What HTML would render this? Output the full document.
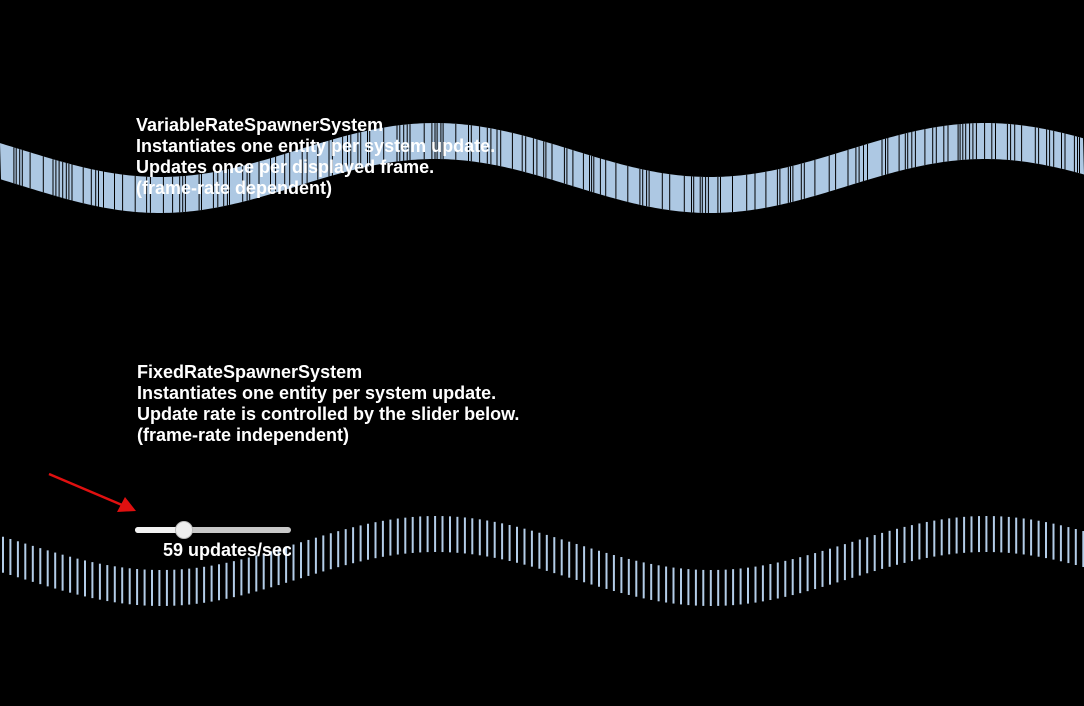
<!DOCTYPE html>
<html><head><style>
html,body{margin:0;padding:0;background:#000;width:1084px;height:706px;overflow:hidden}
.t{position:absolute;left:136px;color:#fff;font:bold 18px/21px "Liberation Sans",sans-serif;white-space:nowrap}
</style></head><body>
<svg id="s" width="1084" height="706" style="position:absolute;left:0;top:0"></svg>
<div class="t" style="top:115px">VariableRateSpawnerSystem<br>Instantiates one entity per system update.<br>Updates once per displayed frame.<br>(frame-rate dependent)</div>
<div class="t" style="top:362px;left:137px">FixedRateSpawnerSystem<br>Instantiates one entity per system update.<br>Update rate is controlled by the slider below.<br>(frame-rate independent)</div>
<div style="position:absolute;left:135px;top:527px;width:156px;height:6px;border-radius:3px;background:#c8c8c8"></div>
<div style="position:absolute;left:135px;top:527px;width:50px;height:6px;border-radius:3px;background:#f2f2f2"></div>
<div style="position:absolute;left:175px;top:521px;width:18px;height:18px;border-radius:50%;background:#eee;border:1px solid #bbb;box-sizing:border-box"></div>
<div style="position:absolute;left:163px;top:540px;width:128px;overflow:hidden;color:#fff;font:bold 18px/21px 'Liberation Sans',sans-serif;white-space:nowrap">59 updates/sec</div>
<script>
var s=document.getElementById('s'),h='';
function tw(x){return 168+27*Math.cos(2*Math.PI*(x-710)/550);}
var pts=[];for(var x=0;x<=1084;x+=3)pts.push(x+','+(tw(x)-18));
for(var x=1084;x>=0;x-=3)pts.push(x+','+(tw(x)+18));
h+='<polygon points="'+pts.join(' ')+'" fill="#adc8e3"/>';
var seed=11;function rnd(){seed=(seed*9301+49297)%233280;return seed/233280;}
var x=0;while(x<1084){x+=(rnd()<0.45?2+rnd()*2:4+rnd()*11);var y=tw(x);h+='<line x1="'+x.toFixed(1)+'" x2="'+x.toFixed(1)+'" y1="'+(y-18)+'" y2="'+(y+18)+'" stroke="#000" stroke-width="1"/>';}
function bw(x){return 561+27*Math.cos(2*Math.PI*(x-710)/550);}
for(var x=2;x<1084;x+=7.45){var y=bw(x);h+='<rect x="'+x.toFixed(1)+'" y="'+(y-18)+'" width="2" height="36" fill="#b3cde8"/>';}
h+='<line x1="49" y1="474" x2="122" y2="505" stroke="#e01010" stroke-width="2.5"/><polygon points="136,511 117,512 125,497" fill="#e01010"/>';
s.innerHTML=h;
</script>
</body></html>
